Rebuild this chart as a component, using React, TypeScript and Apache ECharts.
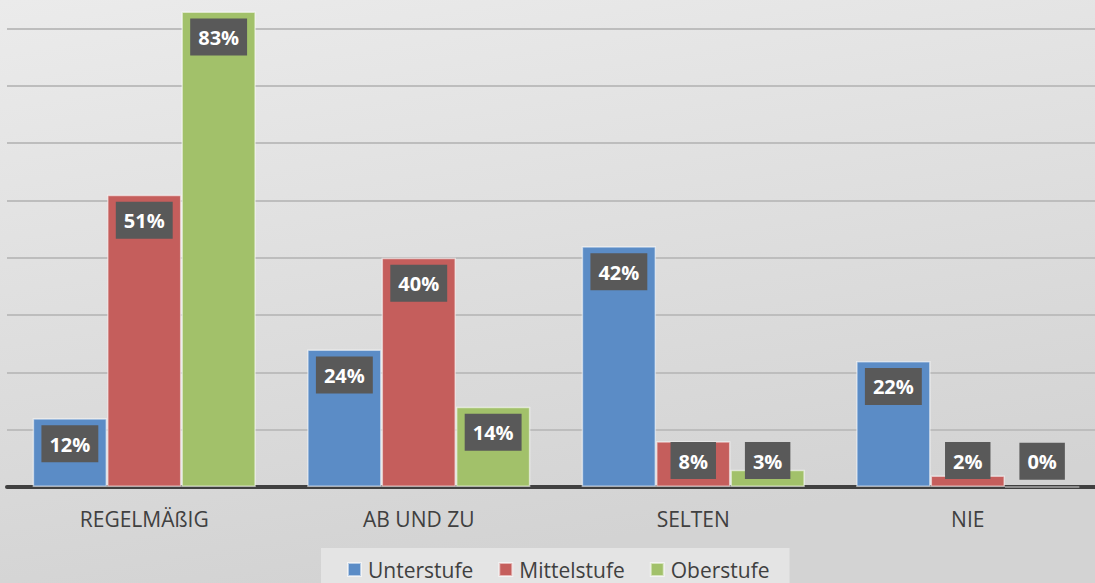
import React, { useEffect, useRef } from "react";
import * as echarts from "echarts";

const categories = ["REGELMÄßIG", "AB UND ZU", "SELTEN", "NIE"];
const seriesNames = ["Unterstufe", "Mittelstufe", "Oberstufe"];
const unterstufe = [12, 24, 42, 22];
const mittelstufe = [51, 40, 8, 2];
const oberstufe = [83, 14, 3, 0];
const colors = ["#5b8cc6", "#c55e5c", "#a2c16a"];
const SMALL = 10;

export default function App() {
  const ref = useRef<HTMLDivElement>(null);
  useEffect(() => {
    document.body.style.margin = "0";
    document.body.style.overflow = "hidden";
    const chart = echarts.init(ref.current!, undefined, { renderer: "svg" });
    const font = "'Open Sans', Lato, sans-serif";
    const mk = (name: string, vals: number[], color: string) => ({
      name,
      type: "bar",
      barGap: "0%",
      barCategoryGap: "18.7%",
      itemStyle: { color, borderColor: "rgba(255,255,255,0.55)", borderWidth: 1.5 },
      label: {
        show: true,
        position: "insideTop",
        distance: 7,
        formatter: "{c}%",
        color: "#ffffff",
        fontWeight: "bold",
        fontSize: 20,
        fontFamily: font,
        backgroundColor: "#595959",
        padding: [9, 8, 8, 8],
      },
      data: vals.map((v) =>
        v < SMALL
          ? { value: v, label: { position: "insideBottom", distance: 8 } }
          : { value: v }
      ),
    });
    chart.setOption({
      animation: false,
      backgroundColor: {
        type: "linear",
        x: 0,
        y: 0,
        x2: 0.3,
        y2: 1,
        colorStops: [
          { offset: 0, color: "#ebebeb" },
          { offset: 1, color: "#d3d3d3" },
        ],
      },
      textStyle: { fontFamily: font },
      grid: { left: 7, right: 0, top: 0, bottom: 96, containLabel: false },
      legend: {
        data: seriesNames,
        top: 548,
        left: 321,
        padding: [11, 20, 12, 26],
        backgroundColor: "#e4e4e4",
        itemWidth: 13,
        itemHeight: 13,
        itemGap: 25,
        icon: "rect",
        textStyle: { fontSize: 21, color: "#404040", fontFamily: font, padding: [0, 0, 0, 2] },
      },
      xAxis: {
        type: "category",
        data: categories,
        axisLine: { lineStyle: { color: "#404040", width: 4 } },
        axisTick: { show: false },
        axisLabel: { fontSize: 21, color: "#404040", margin: 21, fontFamily: font },
      },
      yAxis: {
        type: "value",
        min: 0,
        max: 85,
        interval: 10,
        axisLabel: { show: false },
        axisLine: { show: false },
        axisTick: { show: false },
        splitLine: { show: true, showMaxLine: false, lineStyle: { color: "#bdbdbd", width: 2 } },
      },
      series: [
        mk(seriesNames[0], unterstufe, colors[0]),
        mk(seriesNames[1], mittelstufe, colors[1]),
        mk(seriesNames[2], oberstufe, colors[2]),
      ],
    });
    return () => chart.dispose();
  }, []);
  return (
    <div style={{ width: 1095, height: 583, overflow: "hidden", position: "relative" }}>
      <div ref={ref} style={{ width: 1105, height: 583 }} />
    </div>
  );
}
